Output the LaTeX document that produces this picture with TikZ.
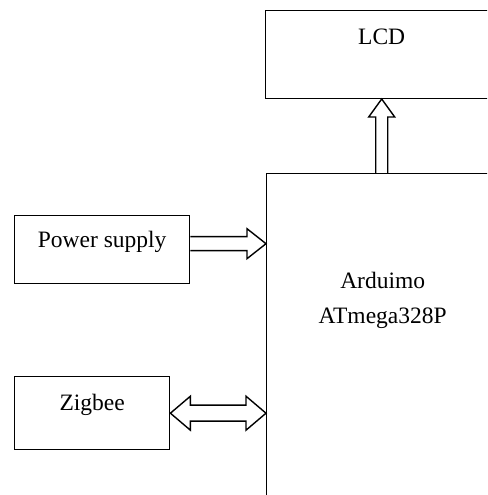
\documentclass[tikz,border=0pt]{standalone}
\usepackage{fontspec}
\setmainfont{Liberation Serif}
\usetikzlibrary{positioning,calc}

\tikzset{
    block/.style={draw, line width=1.4pt, inner sep=0pt, font=\fontsize{23.5}{35}\selectfont},
    blk/.style={draw, line width=1.4pt, line join=miter}
}

\begin{document}
\begin{tikzpicture}[x=1pt, y=1pt]
    \useasboundingbox (0,0) rectangle (487,495);
    \clip (0,0) rectangle (487,495);
    \node[block, anchor=north west, minimum width=232pt, text height=115pt, text depth=217pt] (ard) at (266,322)
        {\begin{tabular}[t]{c}Arduimo\\ATmega328P\end{tabular}};
    \node[block, above=74pt of ard, xshift=-1pt, minimum width=232pt, text height=34pt, text depth=54pt] (lcd) {LCD};
    \node[block, anchor=north west, minimum width=175pt, text height=32pt, text depth=36pt] (ps) at (14,280) {Power supply};
    \node[block, anchor=north west, minimum width=155pt, text height=34pt, text depth=39pt] (zb) at (14,119) {Zigbee};

    \coordinate (p1) at ($(ps.east)+(0,6)$);
    \coordinate (p2) at (ard.west |- p1);
    \draw[blk] ($(p1)+(0,7)$) -- ($(p2)+(-19,7)$) -- ($(p2)+(-19,15)$) -- (p2)
        -- ($(p2)+(-19,-15)$) -- ($(p2)+(-19,-7)$) -- ($(p1)+(0,-7)$);

    \coordinate (z1) at (zb.east);
    \coordinate (z2) at (ard.west |- z1);
    \draw[blk] (z1) -- ($(z1)+(20,17)$) -- ($(z1)+(20,8)$) -- ($(z2)+(-20,8)$) -- ($(z2)+(-20,17)$) -- (z2)
        -- ($(z2)+(-20,-17)$) -- ($(z2)+(-20,-8)$) -- ($(z1)+(20,-8)$) -- ($(z1)+(20,-17)$) -- cycle;

    \coordinate (l1) at (lcd.south);
    \coordinate (l2) at (l1 |- ard.north);
    \draw[blk] ($(l2)+(-6,0)$) -- ($(l1)+(-6,-18)$) -- ($(l1)+(-13,-18)$) -- (l1)
        -- ($(l1)+(13,-18)$) -- ($(l1)+(6,-18)$) -- ($(l2)+(6,0)$);
\end{tikzpicture}
\end{document}
